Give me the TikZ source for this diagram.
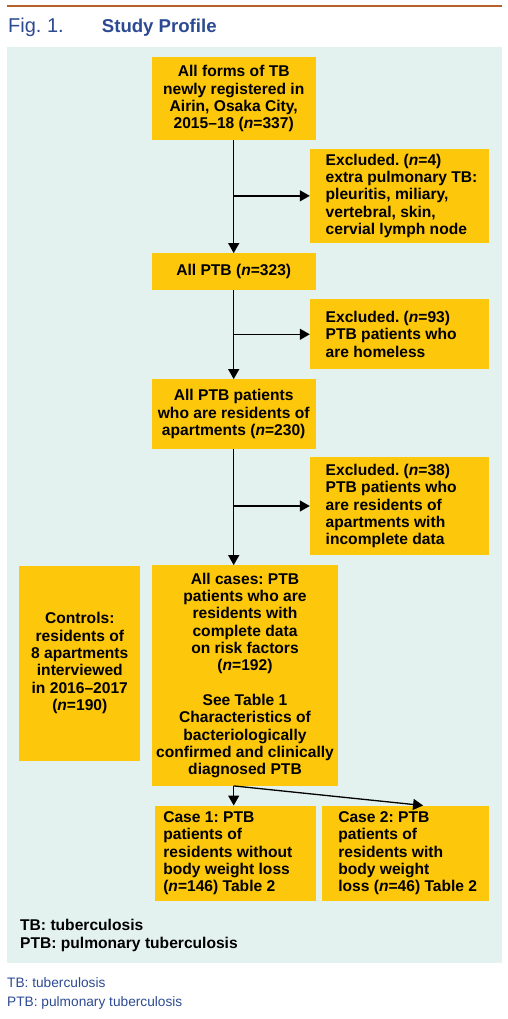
\documentclass[tikz,border=0pt]{standalone}
\usepackage{fontspec}
\setmainfont{Liberation Sans}
\usetikzlibrary{arrows.meta}
\frenchspacing
\definecolor{boxyellow}{HTML}{FDC70C}
\definecolor{panelbg}{HTML}{E4F2EF}
\definecolor{rulebrown}{HTML}{B5622B}
\definecolor{navy}{HTML}{2C4A92}
\newcommand{\boxfont}{\fontsize{15.6}{17.3}\selectfont\bfseries\frenchspacing}
\tikzset{
  box/.style={fill=boxyellow, draw=none, inner sep=0pt},
  ctext/.style={align=center, font=\boxfont},
  ltext/.style={align=left, font=\boxfont, inner sep=0pt, anchor=west},
  arr/.style={line width=1.3pt, -{Triangle[length=10pt,width=11pt]}},
}
\begin{document}
\begin{tikzpicture}[x=1pt,y=-1pt]
\useasboundingbox (0,0) rectangle (507,1019);
% header
\draw[rulebrown, line width=1.8pt] (7,6) -- (502,6);
\node[anchor=base west, inner sep=0pt, text=navy, font=\fontsize{20}{22}\selectfont] (fig) at (8,33) {Fig. 1.};
\node[anchor=base west, inner sep=0pt, text=navy, font=\fontsize{18.6}{21}\selectfont\bfseries] (title) at (101.7,33) {Study Profile};
% panel
\fill[panelbg] (7,46.7) rectangle (502,962.7);
% boxes
\node[box, ctext, minimum width=164pt, minimum height=82.7pt] (b1) at (233.7,98.7)
  {All forms of TB\\newly registered in\\Airin, Osaka City,\\2015--18 (\textit{n}=337)};
\node[box, minimum width=178.7pt, minimum height=94.3pt] (e1) at (399.35,195.85) {};
\node[ltext] (e1t) at ([xshift=15.7pt]e1.west)
  {Excluded. (\textit{n}=4)\\extra pulmonary TB:\\pleuritis, miliary,\\vertebral, skin,\\cervial lymph node};
\node[box, ctext, minimum width=164pt, minimum height=36.7pt] (b2) at (233.7,271.65)
  {All PTB (\textit{n}=323)};
\node[box, minimum width=178.7pt, minimum height=70pt] (e2) at (399.35,334.3) {};
\node[ltext] (e2t) at ([xshift=15.7pt]e2.west)
  {Excluded. (\textit{n}=93)\\PTB patients who\\are homeless};
\node[box, ctext, minimum width=164pt, minimum height=69.4pt] (b3) at (233.7,414)
  {All PTB patients\\who are residents of\\apartments (\textit{n}=230)};
\node[box, minimum width=178.7pt, minimum height=98pt] (e3) at (399.35,506) {};
\node[ltext] (e3t) at ([xshift=15.7pt]e3.west)
  {Excluded. (\textit{n}=38)\\PTB patients who\\are residents of\\apartments with\\incomplete data};
\node[box, ctext, minimum width=186.6pt, minimum height=220.4pt] (b4) at (245,675.5)
  {All cases: PTB\\patients who are\\residents with\\complete data\\on risk factors\\(\textit{n}=192)\\[17.3pt]See Table 1\\Characteristics of\\bacteriologically\\confirmed and clinically\\diagnosed PTB};
\node[box, ctext, minimum width=121pt, minimum height=195pt] (ctrl) at (79.8,663.2)
  {Controls:\\residents of\\8 apartments\\interviewed\\in 2016--2017\\(\textit{n}=190)};
\node[box, minimum width=160.4pt, minimum height=95pt] (c1) at (235.5,853.2) {};
\node[ltext] (c1t) at ([xshift=8pt]c1.west)
  {Case 1: PTB\\patients of\\residents without\\body weight loss\\(\textit{n}=146) Table 2};
\node[box, minimum width=166.4pt, minimum height=95pt] (c2) at (405.5,853.2) {};
\node[ltext] (c2t) at ([xshift=16pt]c2.west)
  {Case 2: PTB\\patients of\\residents with\\body weight\\loss (\textit{n}=46) Table 2};
% connectors
\draw[arr] (b1.south) -- (b2.north);
\draw[arr] (b1.south |- e1.west) -- (e1.west);
\draw[arr] (b2.south) -- (b3.north);
\draw[arr] (b2.south |- e2.west) -- (e2.west);
\draw[arr] (b3.south) -- (b3.south |- b4.north);
\draw[arr] (b3.south |- e3.west) -- (e3.west);
\coordinate (split) at (b3.south |- b4.south);
\coordinate (c2in) at ([xshift=101pt]c2.north west);
\draw[arr] (split) -- (split |- c1.north);
\draw[arr] (split) -- (c2in);
% legends
\node[anchor=west, align=left, inner sep=0pt, font=\boxfont] (leg) at (20,935.5)
  {TB: tuberculosis\\PTB: pulmonary tuberculosis};
\node[anchor=west, align=left, inner sep=0pt, text=navy, font=\fontsize{13.7}{19}\selectfont] (note) at (7,993.5)
  {TB: tuberculosis\\PTB: pulmonary tuberculosis};
\end{tikzpicture}
\end{document}
